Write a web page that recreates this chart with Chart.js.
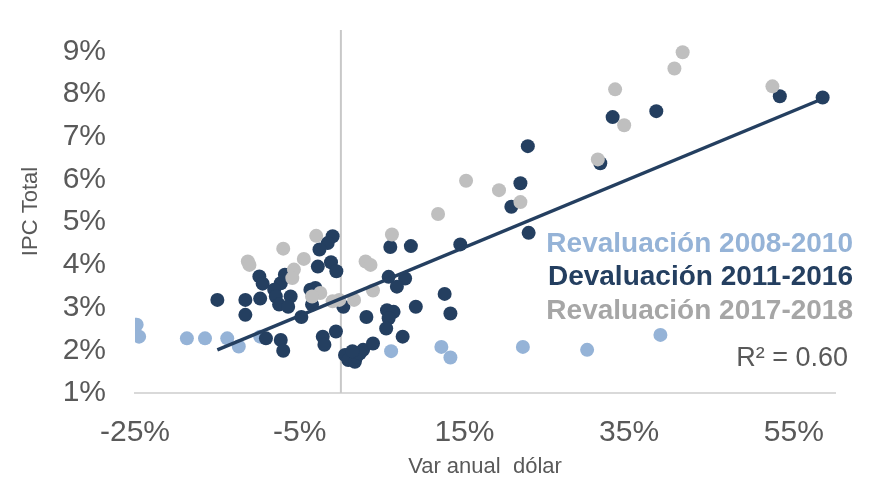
<!DOCTYPE html>
<html>
<head>
<meta charset="utf-8">
<script src="https://cdn.jsdelivr.net/npm/chart.js@4"></script>
<style>
  html, body { margin: 0; padding: 0; background: #fff; }
</style>
</head>
<body>
<canvas id="chart" width="870" height="481"></canvas>
<script>
// Series names and colours
const seriesNames = ["Revaluación 2008-2010", "Devaluación 2011-2016", "Revaluación 2017-2018"];
const dotColors = ["#95B3D7", "#243F60", "#BFBFBF"];
const labelColors = ["#95B3D7", "#243F60", "#A6A6A6"];

// Points as [var anual dólar %, IPC %]
const reval0810 = [
  [-24.8, 2.60], [-24.5, 2.32], [-18.7, 2.28], [-16.5, 2.28], [-13.8, 2.28],
  [-12.4, 2.09], [-9.8, 2.32], [6.1, 1.98], [12.2, 2.08], [13.3, 1.83],
  [22.1, 2.08], [29.9, 2.01], [38.8, 2.36]
];
const deval1116 = [
  [58.5, 7.92], [53.3, 7.95], [38.3, 7.60], [33.0, 7.46], [31.5, 6.38],
  [22.7, 6.78], [21.8, 5.91], [20.7, 5.36], [22.8, 4.75], [14.5, 4.48],
  [8.5, 4.44], [6.0, 4.42],
  [5.8, 3.72], [7.8, 3.68], [6.8, 3.49], [12.6, 3.32], [13.3, 2.86], [9.1, 3.02],
  [5.6, 2.94], [6.4, 2.90], [5.8, 2.75], [5.5, 2.51], [7.5, 2.32], [3.1, 2.78], [0.3, 3.02],
  [0.5, 1.89], [0.9, 1.77], [1.7, 1.73], [1.9, 1.85], [2.7, 2.01], [3.9, 2.16], [2.3, 1.93], [1.4, 1.98],
  [-0.6, 2.44], [-2.2, 2.32], [-2.0, 2.13], [-1.0, 4.67], [-1.6, 4.51], [-2.6, 4.36],
  [-2.8, 3.96], [-1.2, 4.06], [-0.55, 3.85], [-3.7, 3.42], [-3.1, 3.46], [-3.5, 3.07], [-4.8, 2.78],
  [-15.0, 3.18], [-11.6, 3.18], [-11.6, 2.83], [-9.8, 3.21], [-9.9, 3.73], [-9.5, 3.56],
  [-7.3, 3.57], [-8.1, 3.42], [-7.9, 3.26], [-7.5, 3.07], [-6.1, 3.26], [-6.4, 3.02],
  [-6.8, 3.77], [-9.1, 2.28], [-7.3, 2.24], [-7.0, 1.99]
];
const reval1718 = [
  [41.5, 8.98], [40.5, 8.60], [33.3, 8.11], [34.4, 7.27], [52.4, 8.18], [31.2, 6.47],
  [15.2, 5.97], [19.2, 5.75], [21.8, 5.47], [11.8, 5.19], [6.2, 4.71], [3.0, 4.08],
  [3.6, 4.00], [3.9, 3.40], [1.6, 3.18], [-0.2, 3.18], [-1.0, 3.15], [-2.5, 3.34],
  [-3.5, 3.26], [-3.0, 4.68], [-7.0, 4.38], [-11.3, 4.08], [-11.1, 4.00], [-4.5, 4.14],
  [-5.7, 3.89], [-5.9, 3.69]
];

// Linear trend of the 2011-2016 series
const trendSlope = 0.080;
const trendIntercept = 3.21;
const r2Text = "R² = 0.60";

// Tick labels
const xTicks = [-25, -5, 15, 35, 55];
const yTicks = [1, 2, 3, 4, 5, 6, 7, 8, 9];

const toPoints = (arr) => arr.map(([x, y]) => ({ x: x, y: y }));
const devX = deval1116.map((p) => p[0]);
const trendX = [Math.min(...devX), Math.max(...devX)];
const trendPoints = trendX.map((x) => ({ x: x, y: trendIntercept + trendSlope * x }));

const FONT = '"Liberation Sans", Arial, sans-serif';
const GREY = "#595959";

// Vertical line at x = 0 and the text block on the right
const extras = {
  id: "extras",
  beforeDatasetsDraw(chart) {
    const { ctx, chartArea, scales } = chart;
    const px = scales.x.getPixelForValue(0);
    ctx.save();
    ctx.strokeStyle = "#C8C8C8";
    ctx.lineWidth = 2;
    ctx.beginPath();
    ctx.moveTo(px, chartArea.top);
    ctx.lineTo(px, chartArea.bottom);
    ctx.stroke();
    ctx.restore();
  },
  afterDraw(chart) {
    const ctx = chart.ctx;
    ctx.save();
    ctx.textAlign = "right";
    ctx.textBaseline = "alphabetic";
    ctx.font = "bold 28px " + FONT;
    seriesNames.forEach((name, i) => {
      ctx.fillStyle = labelColors[i];
      ctx.fillText(name, 853, 252 + i * 33.3);
    });
    ctx.font = "27px " + FONT;
    ctx.fillStyle = GREY;
    ctx.fillText(r2Text, 848, 366);
    ctx.restore();
  },
};

new Chart(document.getElementById("chart"), {
  type: "scatter",
  plugins: [extras],
  data: {
    datasets: [
      {
        label: "trend",
        data: trendPoints,
        showLine: true,
        borderColor: "#243F60",
        borderWidth: 3.5,
        pointRadius: 0,
        order: 0,
      },
      {
        label: seriesNames[2],
        data: toPoints(reval1718),
        backgroundColor: dotColors[2],
        borderWidth: 0,
        pointRadius: 7,
        order: 1,
      },
      {
        label: seriesNames[1],
        data: toPoints(deval1116),
        backgroundColor: dotColors[1],
        borderWidth: 0,
        pointRadius: 7,
        order: 2,
      },
      {
        label: seriesNames[0],
        data: toPoints(reval0810),
        backgroundColor: dotColors[0],
        borderWidth: 0,
        pointRadius: 7,
        order: 3,
      },
    ],
  },
  options: {
    responsive: false,
    animation: false,
    devicePixelRatio: 1,
    layout: { padding: { top: 30, right: 35, left: 0, bottom: 0 } },
    plugins: { legend: { display: false }, tooltip: { enabled: false } },
    elements: { point: { hoverRadius: 7 } },
    scales: {
      x: {
        type: "linear",
        min: -25,
        max: 60,
        afterBuildTicks: (axis) => { axis.ticks = xTicks.map((v) => ({ value: v })); },
        afterFit: (axis) => { axis.height = 88; },
        ticks: {
          callback: (v) => v + "%",
          font: { family: FONT, size: 30 },
          color: GREY,
          padding: 22,
          maxRotation: 0,
          autoSkip: false,
        },
        grid: { display: false, drawTicks: false },
        border: { display: true, color: "#D9D9D9", width: 2 },
        title: {
          display: true,
          text: "Var anual  dólar",
          font: { family: FONT, size: 22 },
          color: GREY,
          padding: { top: 0, bottom: 1 },
        },
      },
      y: {
        type: "linear",
        min: 1,
        max: 9.5,
        afterBuildTicks: (axis) => { axis.ticks = yTicks.map((v) => ({ value: v })); },
        afterFit: (axis) => {
          axis.width = 135;
          axis.paddingTop = 0;
          axis.paddingBottom = 0;
        },
        ticks: {
          callback: (v) => v + "%",
          font: { family: FONT, size: 30 },
          color: GREY,
          padding: 29,
        },
        grid: { display: false, drawTicks: false },
        border: { display: false },
        title: {
          display: true,
          text: "IPC Total",
          font: { family: FONT, size: 22 },
          color: GREY,
          padding: { top: 18, bottom: 0 },
        },
      },
    },
  },
});
</script>
</body>
</html>
